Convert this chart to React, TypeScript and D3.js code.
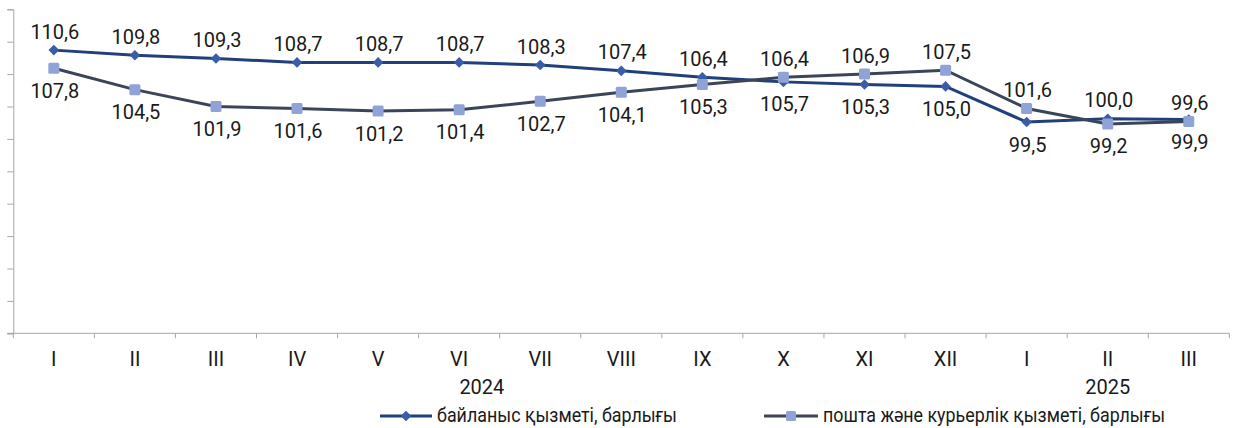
import React, { useRef, useEffect } from "react";
import * as d3 from "d3";

const months = ["I", "II", "III", "IV", "V", "VI", "VII", "VIII", "IX", "X", "XI", "XII", "I", "II", "III"];
const commValues = [110.6, 109.8, 109.3, 108.7, 108.7, 108.7, 108.3, 107.4, 106.4, 105.7, 105.3, 105.0, 99.5, 100.0, 99.9];
const postValues = [107.8, 104.5, 101.9, 101.6, 101.2, 101.4, 102.7, 104.1, 105.3, 106.4, 106.9, 107.5, 101.6, 99.2, 99.6];
// label placement: true = above the marker
const commAbove = [true, true, true, true, true, true, true, true, true, false, false, false, false, true, false];
const postAbove = [false, false, false, false, false, false, false, false, false, true, true, true, true, false, true];
const years = [
  { label: "2024", pos: 5.78 },
  { label: "2025", pos: 13.5 },
];
const seriesNames = ["байланыс қызметі, барлығы", "пошта және курьерлік қызметі, барлығы"];

const COMM_LINE = "#213F7B";
const COMM_MARK = "#3A5CA9";
const POST_LINE = "#3A4559";
const POST_MARK = "#8FA3D7";
const AXIS = "#A6A6A6";
const FONT = "Roboto, sans-serif";

function drawChart(el: SVGSVGElement, width: number, height: number) {
  const svg = d3.select(el);
  svg.selectAll("*").remove();

  const left = 13.3;
  const right = 1229.3;
  const top = 9.3;
  const bottom = 333.3;

  const x = d3.scaleBand<number>().domain(d3.range(months.length)).range([left, right]);
  const y = d3.scaleLinear().domain([66.9, 116.9]).range([bottom, top]);
  const cx = (i: number) => (x(i) as number) + x.bandwidth() / 2;

  // y axis (no labels)
  const yAxis = svg.append("g").attr("transform", `translate(${left},0)`);
  yAxis.call(
    d3.axisLeft(y).tickValues(d3.range(0, 11).map((k) => 66.9 + 5 * k)).tickSize(6).tickFormat(() => "")
  );
  yAxis.select(".domain").attr("stroke", AXIS);
  yAxis.selectAll(".tick line").attr("stroke", AXIS);

  // x axis
  const xAxis = svg.append("g").attr("transform", `translate(0,${bottom})`);
  const xEdges = d3.scaleLinear().domain([0, months.length]).range([left, right]);
  xAxis
    .append("line")
    .attr("x1", left - 6)
    .attr("x2", right)
    .attr("y1", 0)
    .attr("y2", 0)
    .attr("stroke", AXIS);
  xAxis
    .selectAll("line.tk")
    .data(d3.range(months.length + 1))
    .enter()
    .append("line")
    .attr("class", "tk")
    .attr("x1", (d) => xEdges(d))
    .attr("x2", (d) => xEdges(d))
    .attr("y1", 0)
    .attr("y2", 5)
    .attr("stroke", AXIS);
  xAxis
    .selectAll("text.m")
    .data(months)
    .enter()
    .append("text")
    .attr("class", "m")
    .attr("x", (_, i) => cx(i))
    .attr("y", 32.4)
    .attr("text-anchor", "middle")
    .style("font-family", FONT)
    .style("font-size", "20px")
    .style("fill", "#1a1a1a")
    .text((d) => d);
  xAxis
    .selectAll("text.yr")
    .data(years)
    .enter()
    .append("text")
    .attr("class", "yr")
    .attr("x", (d) => xEdges(d.pos))
    .attr("y", 61)
    .attr("text-anchor", "middle")
    .style("font-family", FONT)
    .style("font-size", "20px")
    .style("fill", "#1a1a1a")
    .text((d) => d.label);

  const line = d3
    .line<number>()
    .x((_, i) => cx(i))
    .y((d) => y(d));

  const diamond = d3.symbol().type(d3.symbolDiamond2).size(72);

  // series 1
  svg
    .append("path")
    .attr("d", line(commValues))
    .attr("fill", "none")
    .attr("stroke", COMM_LINE)
    .attr("stroke-width", 3);
  svg
    .selectAll("path.dm")
    .data(commValues)
    .enter()
    .append("path")
    .attr("class", "dm")
    .attr("d", diamond)
    .attr("transform", (d, i) => `translate(${cx(i)},${y(d)})`)
    .attr("fill", COMM_MARK);

  // series 2
  svg
    .append("path")
    .attr("d", line(postValues))
    .attr("fill", "none")
    .attr("stroke", POST_LINE)
    .attr("stroke-width", 3);
  svg
    .selectAll("rect.sq")
    .data(postValues)
    .enter()
    .append("rect")
    .attr("class", "sq")
    .attr("x", (_, i) => cx(i) - 5.5)
    .attr("y", (d) => y(d) - 5.5)
    .attr("width", 11)
    .attr("height", 11)
    .attr("rx", 1.5)
    .attr("fill", POST_MARK);

  // data labels
  const fmt = (v: number) => v.toFixed(1).replace(".", ",");
  const addLabels = (vals: number[], above: boolean[], cls: string) => {
    svg
      .selectAll(`text.${cls}`)
      .data(vals)
      .enter()
      .append("text")
      .attr("class", cls)
      .attr("x", (_, i) => cx(i) + 1)
      .attr("y", (d, i) => y(d) + (above[i] ? -11.5 : 29.5))
      .attr("text-anchor", "middle")
      .style("font-family", FONT)
      .style("font-size", "20px")
      .style("fill", "#1a1a1a")
      .text((d) => fmt(d));
  };
  addLabels(commValues, commAbove, "lc");
  addLabels(postValues, postAbove, "lp");

  // legend
  const legend = [
    { name: seriesNames[0], x0: 380, x1: 432, text: 437, len: 240, color: COMM_LINE, mark: COMM_MARK, sq: false },
    { name: seriesNames[1], x0: 764, x1: 818, text: 823, len: 342, color: POST_LINE, mark: POST_MARK, sq: true },
  ];
  const ly = 416;
  legend.forEach((l) => {
    const g = svg.append("g");
    g.append("line")
      .attr("x1", l.x0)
      .attr("x2", l.x1)
      .attr("y1", ly)
      .attr("y2", ly)
      .attr("stroke", l.color)
      .attr("stroke-width", 3);
    const mx = (l.x0 + l.x1) / 2;
    if (l.sq) {
      g.append("rect")
        .attr("x", mx - 5)
        .attr("y", ly - 5)
        .attr("width", 10)
        .attr("height", 10)
        .attr("rx", 1.5)
        .attr("fill", l.mark);
    } else {
      g.append("path").attr("d", diamond).attr("transform", `translate(${mx},${ly})`).attr("fill", l.mark);
    }
    g.append("text")
      .attr("x", l.text)
      .attr("y", ly + 6)
      .attr("textLength", l.len)
      .attr("lengthAdjust", "spacingAndGlyphs")
      .style("font-family", FONT)
      .style("font-size", "20px")
      .style("fill", "#1a1a1a")
      .text(l.name);
  });
}

const App: React.FunctionComponent = function () {
  const ref = useRef<SVGSVGElement>(null);
  const width = 1236;
  const height = 428;

  useEffect(() => {
    if (ref.current == null) {
      return;
    }
    drawChart(ref.current, width, height);
  }, []);

  return (
    <svg
      ref={ref}
      width={width}
      height={height}
      style={{ position: "absolute", left: 0, top: 0, background: "#fff" }}
    ></svg>
  );
};

export default App;
